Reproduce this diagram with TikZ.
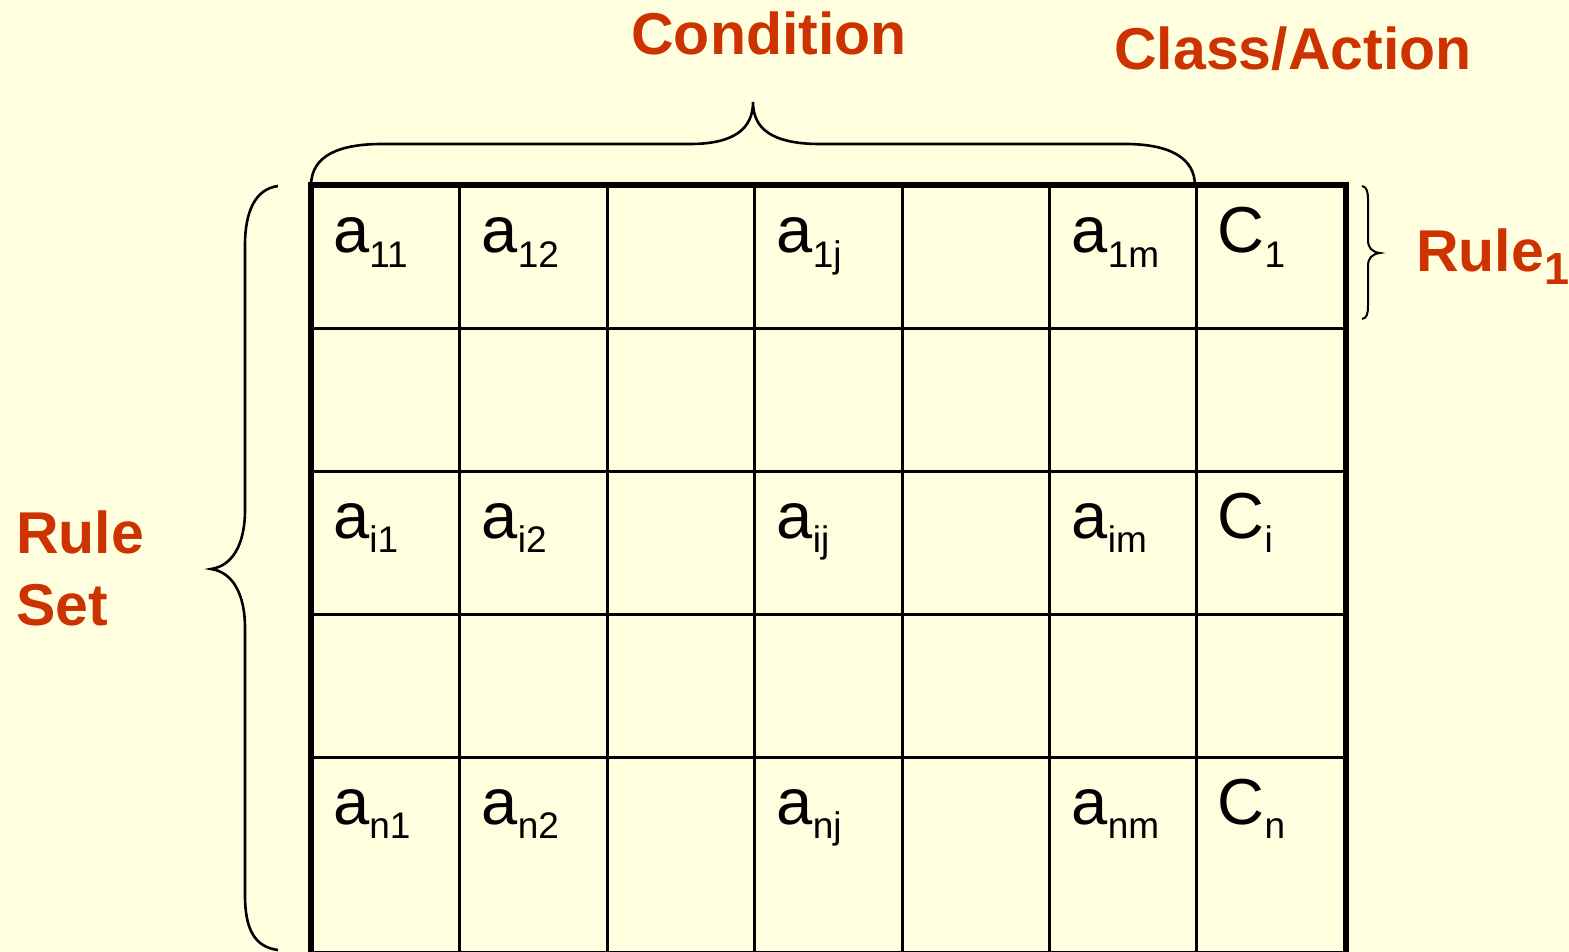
\documentclass[tikz,border=0pt]{standalone}
\usepackage{fontspec}
\setmainfont{Liberation Sans}
\definecolor{bgyellow}{HTML}{FFFFE0}
\definecolor{labelred}{HTML}{CC3300}
\newcommand{\subs}[1]{\raisebox{-14pt}{\fontsize{37}{37}\selectfont #1}}
\newcommand{\rsubs}[1]{\raisebox{-13pt}{\fontsize{45}{45}\selectfont #1}}
\begin{document}
\begin{tikzpicture}[x=1pt,y=-1pt,
  cell/.style={anchor=base west, inner sep=0pt, font=\fontsize{65}{65}\selectfont},
  redlabel/.style={inner sep=0pt, text=labelred, font=\fontsize{59}{59}\selectfont\bfseries},
  thinline/.style={line width=3pt},
  thickline/.style={line width=6pt},
  bracestyle/.style={line width=2.6pt},
  smallbrace/.style={line width=2pt}]
\useasboundingbox (0,0) rectangle (1569,952);
\fill[bgyellow] (0,0) rectangle (1569,952);
\clip (0,0) rectangle (1569,952);
% grid interior
\foreach \x in {459.5,607,754.5,902,1049.5,1196.5}
  \draw[thinline] (\x,186) -- (\x,960);
\foreach \y in {328.5,471,614,757.5}
  \draw[thinline] (311,\y) -- (1346,\y);
% outer border
\draw[thickline] (311,955) -- (311,185.5) -- (1346,185.5) -- (1346,955);
\draw[line width=2pt] (311,951.5) -- (1346,951.5);
% cell labels
\node[cell] (a11) at (333,253) {a\subs{11}};
\node[cell] (a12) at (481.5,253) {a\subs{12}};
\node[cell] (a1j) at (776.5,253) {a\subs{1j}};
\node[cell] (a1m) at (1071.5,253) {a\subs{1m}};
\node[cell] (c1) at (1217.5,253) {C\subs{1}};
\node[cell] (ai1) at (333,538) {a\subs{i1}};
\node[cell] (ai2) at (481.5,538) {a\subs{i2}};
\node[cell] (aij) at (776.5,538) {a\subs{ij}};
\node[cell] (aim) at (1071.5,538) {a\subs{im}};
\node[cell] (ci) at (1217.5,538) {C\subs{i}};
\node[cell] (an1) at (333,824) {a\subs{n1}};
\node[cell] (an2) at (481.5,824) {a\subs{n2}};
\node[cell] (anj) at (776.5,824) {a\subs{nj}};
\node[cell] (anm) at (1071.5,824) {a\subs{nm}};
\node[cell] (cn) at (1217.5,824) {C\subs{n}};
% red labels
\node[redlabel, anchor=base] (cond) at (769,55) {Condition};
\node[redlabel, anchor=base west] (class) at (1114,70) {Class/Action};
\node[redlabel, anchor=base west] (rule1) at (1416,272) {Rule\rsubs{1}};
\node[redlabel, anchor=base west] (rule) at (16,553) {Rule};
\node[redlabel, anchor=base west] (set) at (16,625) {Set};
% top brace
\draw[bracestyle] (311,186) .. controls (311,155) and (340,144) .. (382,144)
  -- (690,144) .. controls (735,144) and (753,128) .. (753,102)
  .. controls (753,128) and (771,144) .. (820,144)
  -- (1125,144) .. controls (1170,144) and (1195,158) .. (1195,186);
% left brace
\draw[bracestyle] (278,186) .. controls (255,189) and (245,212) .. (245,245)
  -- (245,510) .. controls (245,545) and (232,566) .. (211,569)
  .. controls (232,572) and (245,593) .. (245,628)
  -- (245,895) .. controls (245,930) and (255,947) .. (278,950);
% right small brace
\draw[smallbrace] (1362,186) .. controls (1367,187) and (1368,192) .. (1368,200)
  -- (1368,240) .. controls (1368,248) and (1372,252) .. (1380,253)
  .. controls (1372,254) and (1368,258) .. (1368,266)
  -- (1368,305) .. controls (1368,314) and (1367,318) .. (1362,319);
\end{tikzpicture}
\end{document}
